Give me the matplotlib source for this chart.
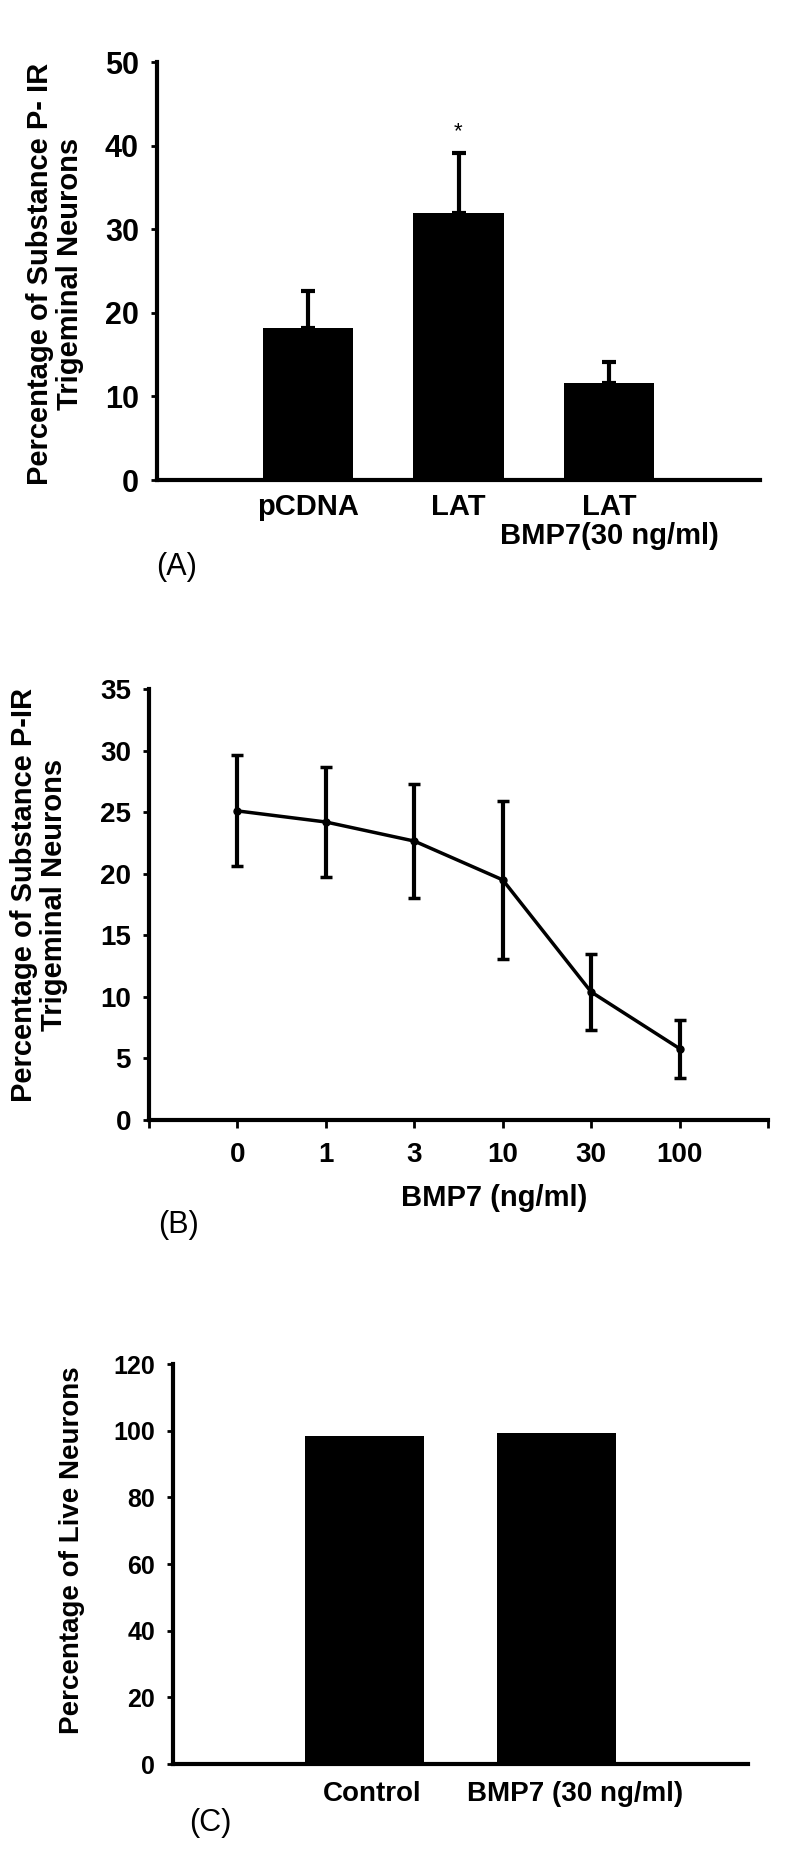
import matplotlib
matplotlib.use("Agg")
import matplotlib.pyplot as plt
from matplotlib.transforms import ScaledTranslation

plt.rcParams["font.family"] = ["Liberation Sans", "DejaVu Sans"]

# panel A: substance P-IR neurons per treatment
a_labels = ["pCDNA", "LAT", "LAT\nBMP7(30 ng/ml)"]
a_means = [18.2, 31.9, 11.6]
a_err = [4.4, 7.2, 2.5]
a_star = 41.7

# panel B: dose response to BMP7
b_doses = ["0", "1", "3", "10", "30", "100"]
b_means = [25.1, 24.2, 22.65, 19.5, 10.4, 5.8]
b_err = [4.5, 4.5, 4.6, 6.4, 3.1, 2.35]

# panel C: neuron survival
c_labels = ["Control", "BMP7 (30 ng/ml)"]
c_means = [98.4, 99.2]

W, H = 800, 1855
fig = plt.figure(figsize=(W / 100, H / 100), dpi=100)


def axes_px(left, top, right, bottom):
    return fig.add_axes([left / W, 1 - bottom / H, (right - left) / W, (bottom - top) / H])


def style(ax, tick_size):
    for side in ("top", "right"):
        ax.spines[side].set_visible(False)
    for side in ("left", "bottom"):
        ax.spines[side].set_linewidth(3)
    ax.tick_params(axis="y", direction="out", length=4, width=2, pad=9,
                   labelsize=tick_size)
    for lab in ax.get_yticklabels():
        lab.set_fontweight("bold")


def fig_text(x, y, s, **kw):
    fig.text(x / W, 1 - y / H, s, **kw)


# ---- (A)
ax = axes_px(157, 62, 760, 480)
pos = [1, 2, 3]
ax.bar(pos, a_means, width=0.6, color="black")
ax.errorbar(pos, a_means, yerr=[[0] * 3, a_err], fmt="none", ecolor="black",
            elinewidth=3, capsize=5, capthick=3)
ax.text(2, a_star, "*", ha="center", va="center", fontsize=16)
ax.set_xlim(0, 4)
ax.set_ylim(0, 50)
ax.set_yticks(range(0, 51, 10))
ax.set_xticks(pos)
ax.set_xticklabels(a_labels, fontsize=21, fontweight="bold", linespacing=1.05)
style(ax, 22)
ax.tick_params(axis="x", length=0, pad=9)
fig_text(55, 274, "Percentage of Substance P- IR\nTrigeminal Neurons", rotation=90,
         ha="center", va="center", fontsize=21, fontweight="bold", linespacing=1.05)
fig_text(177, 567, "(A)", ha="center", va="center", fontsize=22)

# ---- (B)
ax = axes_px(149, 689, 768, 1120)
xb = range(1, len(b_means) + 1)
ax.errorbar(xb, b_means, yerr=b_err, color="black", lw=2.5, marker="o", ms=5,
            elinewidth=3, capsize=4, capthick=2.5)
ax.set_xlim(0, 7)
ax.set_ylim(0, 35)
ax.set_yticks(range(0, 36, 5))
ax.set_xticks(range(0, 8))
ax.set_xticklabels([""] + b_doses + [""], fontsize=20, fontweight="bold")
style(ax, 20)
ax.tick_params(axis="x", direction="out", length=6, width=2, pad=10)
fig_text(494, 1198, "BMP7 (ng/ml)", ha="center", va="center", fontsize=21,
         fontweight="bold")
fig_text(39, 895, "Percentage of Substance P-IR\nTrigeminal Neurons", rotation=90,
         ha="center", va="center", fontsize=21, fontweight="bold", linespacing=1.05)
fig_text(178, 1225, "(B)", ha="center", va="center", fontsize=22)

# ---- (C)
ax = axes_px(173, 1364, 748, 1764)
pos = [1, 2]
ax.bar(pos, c_means, width=0.62, color="black")
ax.set_xlim(0, 3)
ax.set_ylim(0, 120)
ax.set_yticks(range(0, 121, 20))
ax.set_xticks(pos)
ax.set_xticklabels(c_labels, fontsize=20, fontweight="bold")
style(ax, 18)
ax.tick_params(axis="x", length=0, pad=12)
for lab, dx in zip(ax.get_xticklabels(), [8, 19]):
    lab.set_transform(lab.get_transform() + ScaledTranslation(dx / 100, 0, fig.dpi_scale_trans))
fig_text(72, 1550, "Percentage of Live Neurons", rotation=90, ha="center",
         va="center", fontsize=20, fontweight="bold")
fig_text(210, 1823, "(C)", ha="center", va="center", fontsize=22)

fig.savefig("out.png", dpi=100, facecolor="white")
plt.close(fig)
